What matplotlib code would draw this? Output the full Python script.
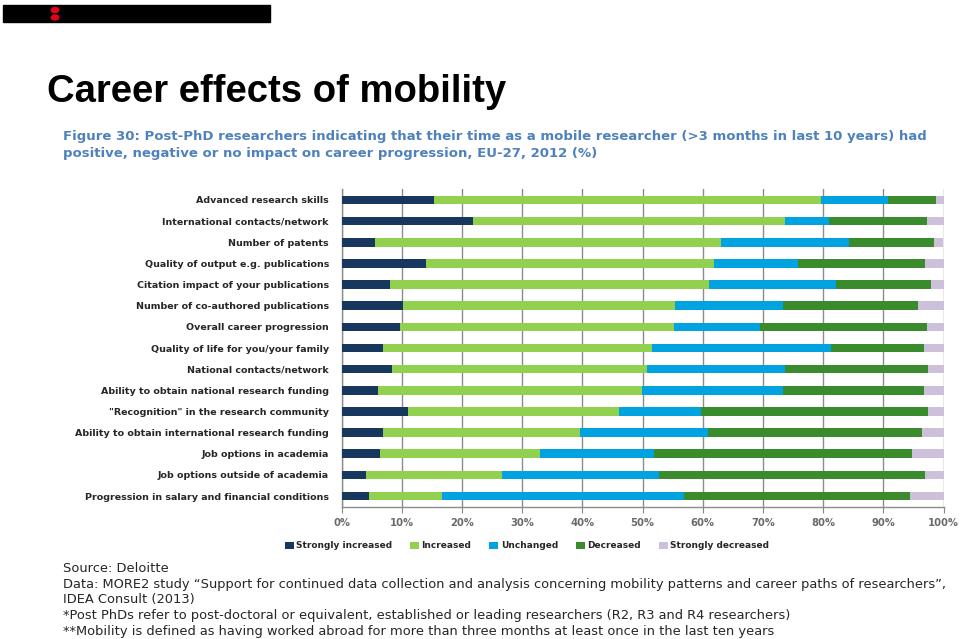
#!/usr/bin/env python3
"""
plot.py — Career effects of mobility: stacked horizontal bars (EU-27, 2012, %).

Output: out.png (960x639)
"""
import matplotlib
matplotlib.use("Agg")
import matplotlib.pyplot as plt
from matplotlib.patches import Rectangle, Circle
import numpy as np

# categories, top to bottom as in the figure
CATEGORIES = [
    "Advanced research skills",
    "International contacts/network",
    "Number of patents",
    "Quality of output e.g. publications",
    "Citation impact of your publications",
    "Number of co-authored publications",
    "Overall career progression",
    "Quality of life for you/your family",
    "National contacts/network",
    "Ability to obtain national research funding",
    "\"Recognition\" in the research community",
    "Ability to obtain international research funding",
    "Job options in academia",
    "Job options outside of academia",
    "Progression in salary and financial conditions",
]

strongly_increased = [15.3, 21.8, 5.6, 14.0, 8.1, 10.2, 9.8, 6.9, 8.4, 6.0, 11.0, 6.9, 6.4, 4.0, 4.6]
increased = [64.4, 51.9, 57.5, 47.9, 52.9, 45.2, 45.5, 44.6, 42.4, 43.9, 35.1, 32.8, 26.5, 22.7, 12.1]
unchanged = [11.1, 7.2, 21.2, 13.9, 21.2, 17.9, 14.3, 29.8, 22.8, 23.4, 13.7, 21.2, 19.0, 26.0, 40.2]
decreased = [8.0, 16.4, 14.1, 21.2, 15.8, 22.5, 27.6, 15.5, 23.9, 23.5, 37.6, 35.5, 42.9, 44.3, 37.6]
strongly_decreased = [1.2, 2.7, 1.6, 3.0, 2.0, 4.2, 2.8, 3.2, 2.5, 3.2, 2.6, 3.6, 5.2, 3.0, 5.5]

SERIES = ["Strongly increased", "Increased", "Unchanged", "Decreased", "Strongly decreased"]
COLORS = ["#17375E", "#92D050", "#00A2E0", "#3A8B2C", "#CCC0DA"]
TICKS = [0, 10, 20, 30, 40, 50, 60, 70, 80, 90, 100]

SUBTITLE = [
    "Figure 30: Post-PhD researchers indicating that their time as a mobile researcher "
    "(>3 months in last 10 years) had",
    "positive, negative or no impact on career progression, EU-27, 2012 (%)",
]
NOTES = [
    "Source: Deloitte",
    "Data: MORE2 study \u201cSupport for continued data collection and analysis concerning "
    "mobility patterns and career paths of researchers\u201d,",
    "IDEA Consult (2013)",
    "*Post PhDs refer to post-doctoral or equivalent, established or leading researchers "
    "(R2, R3 and R4 researchers)",
    "**Mobility is defined as having worked abroad for more than three months at least "
    "once in the last ten years",
]


def main():
    plt.rcParams["font.family"] = ["DejaVu Sans"]
    fig = plt.figure(figsize=(9.6, 6.39), dpi=100)
    W, H = 960, 639

    # header strip with the two red dots
    fig.patches.append(Rectangle((3 / W, 1 - 22 / H), 267 / W, 17 / H,
                                 transform=fig.transFigure, color="black", zorder=1))
    for yy in (10, 17.5):
        fig.patches.append(Circle((55 / W, 1 - yy / H), 3.8 / W, transform=fig.transFigure,
                                  color="#E3001B", zorder=2))

    fig.text(47 / W, 1 - 102 / H, "Career effects of mobility", family="Liberation Sans",
             fontweight="bold", fontsize=27.5, color="black", va="baseline")
    for i, line in enumerate(SUBTITLE):
        fig.text(63 / W, 1 - (140.5 + 17 * i) / H, line, fontsize=9.5, fontweight="bold",
                 color="#4F81BD", va="baseline")

    ax = fig.add_axes([341.5 / W, (H - 506.6) / H, 602 / W, 317.2 / H])
    y = np.arange(len(CATEGORIES))
    data = [strongly_increased, increased, unchanged, decreased, strongly_decreased]
    left = np.zeros(len(CATEGORIES))
    for vals, name, col in zip(data, SERIES, COLORS):
        ax.barh(y, vals, left=left, height=0.41, color=col, label=name, zorder=3)
        left += np.array(vals)

    ax.set_ylim(len(CATEGORIES) - 0.5, -0.5)
    ax.set_xlim(0, 100)
    ax.set_yticks(y)
    ax.set_yticklabels(CATEGORIES, fontsize=6.8, fontweight="bold", color="#262626")
    ax.set_xticks(TICKS)
    ax.set_xticklabels([f"{t}%" for t in TICKS], fontsize=7.2, fontweight="bold", color="#6A6A6A")
    ax.tick_params(axis="y", length=0, pad=9)
    ax.tick_params(axis="x", length=4, color="#868686", pad=4, direction="out")
    ax.grid(axis="x", color="#8C8C8C", linewidth=1, zorder=0)
    for s in ("top", "right"):
        ax.spines[s].set_visible(False)
    for s in ("left", "bottom"):
        ax.spines[s].set_color("#8C8C8C")
        ax.spines[s].set_linewidth(1)

    handles, labels = ax.get_legend_handles_labels()
    fig.legend(handles, labels, loc="center", bbox_to_anchor=(527 / W, 1 - 546 / H), ncol=5,
               frameon=False, prop={"weight": "bold", "size": 6.5},
               handlelength=1.0, handleheight=0.8, handletextpad=0.25, columnspacing=2.0,
               labelcolor="#262626")

    for i, line in enumerate(NOTES):
        fig.text(63 / W, 1 - (569 + 15.5 * i) / H, line, fontsize=9.4, color="#262626",
                 va="center")

    fig.savefig("out.png", dpi=100)


if __name__ == "__main__":
    main()
